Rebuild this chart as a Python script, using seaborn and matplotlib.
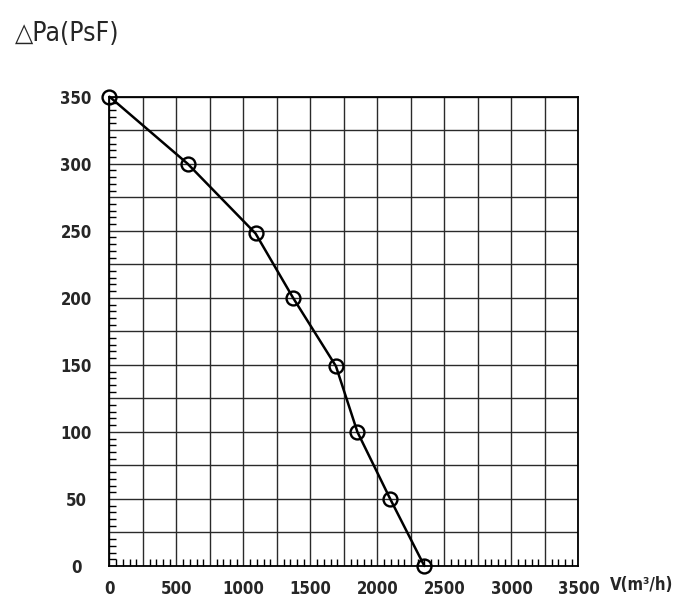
import matplotlib
matplotlib.use("Agg")
import matplotlib.pyplot as plt
from matplotlib.ticker import MultipleLocator
import seaborn as sns
import pandas as pd

flow = [0, 583, 1090, 1370, 1690, 1850, 2095, 2350]
pressure = [350, 300, 248, 200, 149, 100, 50, 0]
x_ticks = [0, 500, 1000, 1500, 2000, 2500, 3000, 3500]
y_ticks = [0, 50, 100, 150, 200, 250, 300, 350]
title_text = "△Pa(PsF)"
xlabel_text = "V(m³/h)"

sns.set_style("white")
plt.rcParams['font.family'] = ['DejaVu Sans']

df = pd.DataFrame({"flow": flow, "pressure": pressure})

fig = plt.figure(figsize=(7, 6.15), dpi=100)
ax = fig.add_axes([0.1564, 0.0797, 0.8264 - 0.1564, 0.8428 - 0.0797])

sns.lineplot(data=df, x="flow", y="pressure", ax=ax, color="black", linewidth=1.8,
             marker="o", markersize=10, markerfacecolor="none", markeredgecolor="black",
             markeredgewidth=1.7, clip_on=False, zorder=5, sort=False)

ax.set_xlim(0, 3500)
ax.set_ylim(0, 350)
ax.xaxis.set_minor_locator(MultipleLocator(50))
ax.yaxis.set_minor_locator(MultipleLocator(5))

major_x = list(range(0, 3501, 250))
major_y = list(range(0, 351, 25))
ax.set_xticks(major_x)
ax.set_xticklabels([str(v) if v in x_ticks else "" for v in major_x])
ax.set_yticks(major_y)
ax.set_yticklabels([str(v) if v in y_ticks else "" for v in major_y])
ax.grid(True, which="major", color="#2a2a2a", linewidth=1.0)
ax.set_axisbelow(True)

ax.tick_params(axis="both", which="major", length=0, labelsize=12)
ax.tick_params(axis="x", which="major", pad=10)
ax.tick_params(axis="y", which="major", pad=24)
ax.tick_params(axis="both", which="minor", direction="in", length=5, width=1.0, color="black")
ax.tick_params(axis="x", which="minor", bottom=True)
ax.tick_params(axis="y", which="minor", left=True)
for lab in ax.get_xticklabels() + ax.get_yticklabels():
    lab.set_fontweight("bold")
    lab.set_fontstretch("condensed")
for lab in ax.get_yticklabels():
    lab.set_horizontalalignment("center")

for s in ax.spines.values():
    s.set_visible(True)
    s.set_color("black")
    s.set_linewidth(1.3)

ax.set_xlabel("")
ax.set_ylabel("")
fig.text(0.022, 0.944, title_text, fontsize=19, ha="left", va="center", fontstretch="condensed")
fig.text(0.871, 0.049, xlabel_text, fontsize=12, ha="left", va="center", fontweight="bold",
         fontstretch="condensed")

fig.savefig("out.png", dpi=100, facecolor="white")
